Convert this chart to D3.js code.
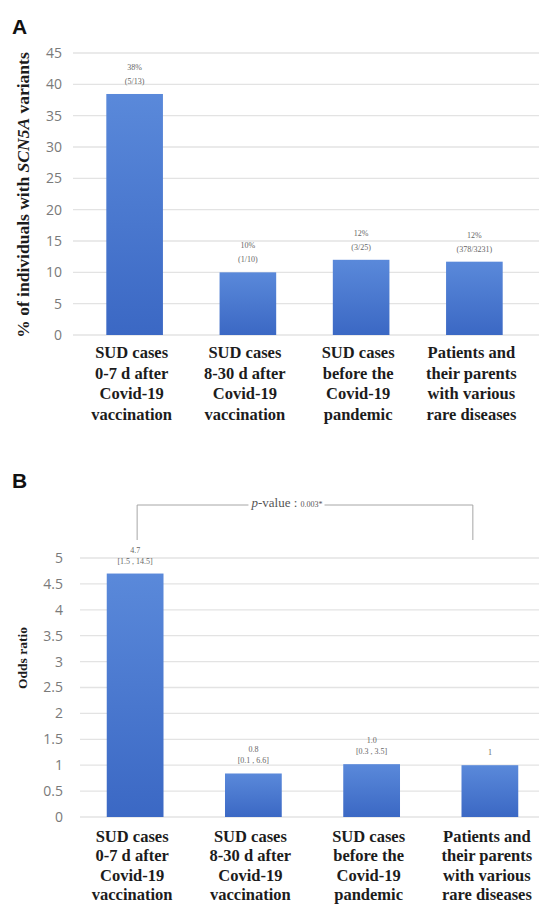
<!DOCTYPE html>
<html><head><meta charset="utf-8">
<script src="https://cdn.jsdelivr.net/npm/d3@7"></script>
<style>body{margin:0;background:#fff}svg{display:block}</style>
</head><body>
<script>
const categories = [
  ["SUD cases","0-7 d after","Covid-19","vaccination"],
  ["SUD cases","8-30 d after","Covid-19","vaccination"],
  ["SUD cases","before the","Covid-19","pandemic"],
  ["Patients and","their parents","with various","rare diseases"]
];
const pctValues = [38.46, 10, 12, 11.7];
const pctLabels = ["38%","10%","12%","12%"];
const pctCounts = ["(5/13)","(1/10)","(3/25)","(378/3231)"];
const pctTicks = [0,5,10,15,20,25,30,35,40,45];

const orValues = [4.7, 0.84, 1.02, 1.0];
const orLabels = ["4.7","0.8","1.0","1"];
const orCI = ["[1.5 , 14.5]","[0.1 , 6.6]","[0.3 , 3.5]",""];
const orTicks = [0,0.5,1,1.5,2,2.5,3,3.5,4,4.5,5];
const pValueText = "0.003*";

const W = 539, H = 904;
const svg = d3.select("body").append("svg").attr("width", W).attr("height", H);
const defs = svg.append("defs");
const grad = defs.append("linearGradient").attr("id","barGrad").attr("x1",0).attr("y1",0).attr("x2",0).attr("y2",1);
grad.append("stop").attr("offset","0%").attr("stop-color","#5a89da");
grad.append("stop").attr("offset","100%").attr("stop-color","#3b68c4");

const serif = "'Liberation Serif', 'Times New Roman', serif";
const sans = "'Open Sans', 'Liberation Sans', sans-serif";

function panel(opts) {
  const g = svg.append("g");
  const x = d3.scaleBand().domain(d3.range(categories.length))
    .range(opts.xRange).paddingInner(opts.padIn).paddingOuter(opts.padOut);
  const y = d3.scaleLinear().domain(opts.yDomain).range(opts.yRange);

  g.selectAll(".grid").data(opts.ticks).join("line")
    .attr("x1", opts.gridX[0]).attr("x2", opts.gridX[1])
    .attr("y1", d => y(d)).attr("y2", d => y(d))
    .attr("stroke", "#e3e3e3").attr("stroke-width", 1.3);

  const yAxis = d3.axisLeft(y).tickValues(opts.ticks).tickSize(0).tickPadding(0)
    .tickFormat(d => String(d));
  const ya = g.append("g").attr("transform", `translate(${opts.tickX},0)`).call(yAxis);
  ya.select(".domain").remove();
  ya.attr("font-family", null);
  ya.selectAll("text").style("font-family", sans).attr("font-size", 14)
    .attr("fill", "#7a7a7a");

  g.selectAll(".bar").data(opts.values).join("rect")
    .attr("x", (d,i) => x(i)).attr("width", x.bandwidth())
    .attr("y", d => y(d)).attr("height", d => y(0) - y(d))
    .attr("fill", "url(#barGrad)");

  g.selectAll(".l1").data(opts.values).join("text")
    .attr("x", (d,i) => x(i) + x.bandwidth()/2)
    .attr("y", (d,i) => y(d) - (opts.lab2[i] ? opts.off1 : opts.off2))
    .attr("text-anchor","middle").style("font-family", serif).attr("font-size", 8)
    .attr("fill","#666").text((d,i) => opts.lab1[i]);
  g.selectAll(".l2").data(opts.values).join("text")
    .attr("x", (d,i) => x(i) + x.bandwidth()/2)
    .attr("y", d => y(d) - opts.off2)
    .attr("text-anchor","middle").style("font-family", serif).attr("font-size", 8)
    .attr("fill","#666").text((d,i) => opts.lab2[i]);

  const cg = g.selectAll(".cat").data(categories).join("text")
    .attr("text-anchor","middle").style("font-family", serif).style("font-weight","bold")
    .attr("font-size", 16.5).attr("fill","#1c1c1c");
  cg.each(function(lines, i) {
    d3.select(this).selectAll("tspan").data(lines).join("tspan")
      .attr("x", x(i) + x.bandwidth()/2 - 3)
      .attr("y", (l, k) => opts.catY + k * opts.catDy)
      .text(l => l);
  });

  svg.append("text").attr("x", 12).attr("y", opts.letterY)
    .style("font-family","'Liberation Sans', Arial, sans-serif").style("font-weight","bold")
    .attr("font-size", 21).attr("fill","#111").text(opts.letter);
  return {g, x, y};
}

const A = panel({
  xRange:[78,531], padIn:0.5, padOut:0.25, yDomain:[0,45], yRange:[335,53],
  gridX:[73,539], tickX:62, ticks:pctTicks, values:pctValues,
  lab1:pctLabels, lab2:pctCounts, off1:24, off2:10, catY:358, catDy:20.5, letter:"A", letterY:34
});
const ta = svg.append("text").attr("transform","translate(29,195) rotate(-90)")
  .attr("text-anchor","middle").style("font-family", serif).style("font-weight","bold")
  .attr("font-size", 17.5).attr("fill","#1c1c1c");
ta.append("tspan").text("% of individuals with ");
ta.append("tspan").style("font-style","italic").text("SCN5A");
ta.append("tspan").text(" variants");

const B = panel({
  xRange:[76,549], padIn:0.52, padOut:0.26, yDomain:[0,5], yRange:[817,558],
  gridX:[80,539], tickX:63, ticks:orTicks, values:orValues,
  lab1:orLabels, lab2:orCI, off1:21, off2:10, catY:842, catDy:19.3, letter:"B", letterY:488
});
svg.append("text").attr("transform","translate(27,658) rotate(-90)")
  .attr("text-anchor","middle").style("font-family", serif).style("font-weight","bold")
  .attr("font-size", 13.5).attr("fill","#1c1c1c").text("Odds ratio");

const bx1 = B.x(0) + B.x.bandwidth()/2 + 2;
const bx2 = B.x(3) + B.x.bandwidth()*0.2;
const by = B.y(5) - 53, byEnd = B.y(5) - 18;
svg.append("path")
  .attr("d", `M${bx1},${byEnd}V${by}H${bx2}V${byEnd}`)
  .attr("fill","none").attr("stroke","#a6a6a6").attr("stroke-width",1);
const pMid = (bx1 + bx2)/2 - 18;
const pg = svg.append("g");
const bgRect = pg.append("rect").attr("fill","#fff");
const pt = pg.append("text").attr("x", pMid).attr("y", by + 2)
  .attr("text-anchor","middle").style("font-family", serif).attr("font-size", 13)
  .attr("fill","#555");
pt.append("tspan").style("font-style","italic").text("p");
pt.append("tspan").text("-value : ");
pt.append("tspan").attr("font-size", 8).text(pValueText);
const bb = pt.node().getBBox();
bgRect.attr("x", bb.x - 2).attr("y", bb.y).attr("width", bb.width + 4).attr("height", bb.height);
</script>
</body></html>
